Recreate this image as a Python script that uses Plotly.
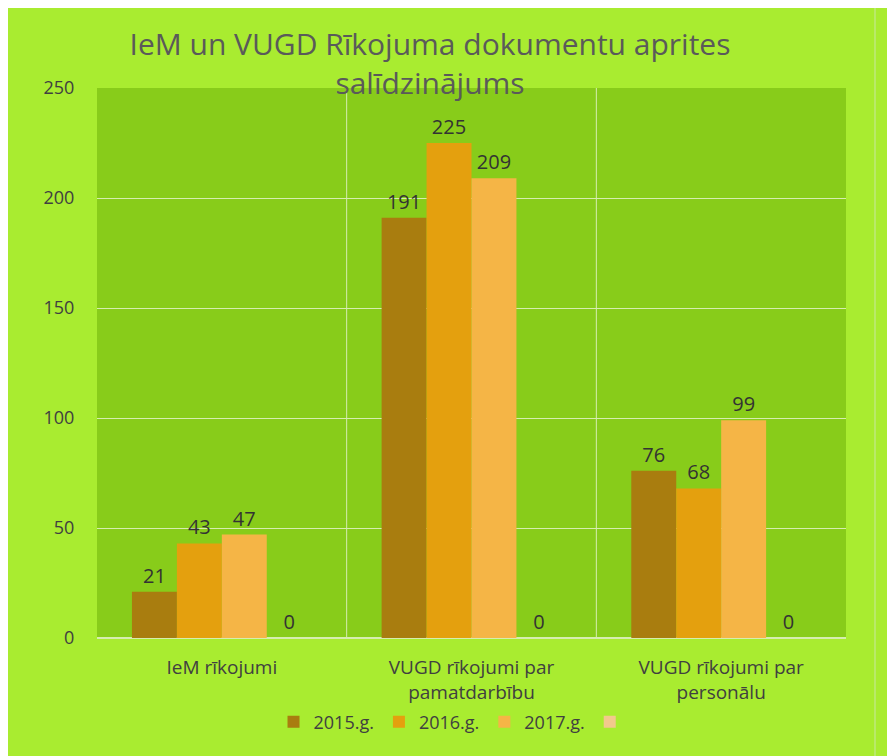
import plotly.graph_objects as go

categories = ["IeM rīkojumi", "VUGD rīkojumi par<br>pamatdarbību", "VUGD rīkojumi par<br>personālu"]
series_names = ["2015.g.", "2016.g.", "2017.g.", " "]
values_2015 = [21, 191, 76]
values_2016 = [43, 225, 68]
values_2017 = [47, 209, 99]
values_empty = [0, 0, 0]
y_ticks = [0, 50, 100, 150, 200, 250]

colors = ["#A97D0F", "#E4A00E", "#F5B546", "#F2C98C"]
FONT = "Open Sans, sans-serif"

fig = go.Figure()
for name, vals, col in zip(series_names, [values_2015, values_2016, values_2017, values_empty], colors):
    fig.add_trace(go.Bar(
        x=categories, y=vals, name=name,
        marker=dict(color=col, line=dict(width=0)),
        text=[str(v) for v in vals], textposition="outside",
        textfont=dict(size=20, color="#333333", family=FONT),
        cliponaxis=False,
    ))

# page body has an 8px margin; figure sits at (8, 8)
fig.update_layout(
    width=887, height=748,
    margin=dict(l=89, r=49, t=80, b=118),
    paper_bgcolor="#A9EC30",
    plot_bgcolor="#88CC1A",
    barmode="group", bargap=0.28, bargroupgap=0,
    title=dict(
        text="IeM un VUGD Rīkojuma dokumentu aprites<br>salīdzinājums",
        x=(430 - 8) / 887, xanchor="center", xref="container",
        y=1 - 47 / 748, yanchor="top", yref="container",
        font=dict(size=30, color="#5A5A5A", family=FONT),
    ),
    showlegend=True,
    legend=dict(
        orientation="h", x=0.48, xanchor="center", y=-0.153, yanchor="middle",
        font=dict(size=18, color="#404040", family=FONT),
        bgcolor="rgba(0,0,0,0)", itemwidth=30,
    ),
    font=dict(family=FONT),
)
fig.update_xaxes(
    showgrid=False,
    tickfont=dict(size=19, color="#404040", family=FONT),
    ticks="outside", ticklen=12, tickcolor="rgba(0,0,0,0)",
    showline=False, zeroline=False,
)
fig.update_yaxes(
    range=[0, 250], tickvals=y_ticks,
    showgrid=True, gridcolor="#D6EDB0", gridwidth=1,
    tickfont=dict(size=18, color="#404040", family=FONT),
    ticks="outside", ticklen=18, tickcolor="rgba(0,0,0,0)",
    zeroline=True, zerolinecolor="#D6EDB0", showline=False,
)
for xv in [0.5, 1.5]:
    fig.add_vline(x=xv, line=dict(color="#D6EDB0", width=1))

# scanned page edge on the right
fig.add_shape(type="line", xref="paper", yref="paper",
              x0=(875 - 97) / 749, x1=(875 - 97) / 749, y0=-0.3, y1=1.2,
              line=dict(color="#C8E8A0", width=1), layer="above")

fig.write_html("out.html")
